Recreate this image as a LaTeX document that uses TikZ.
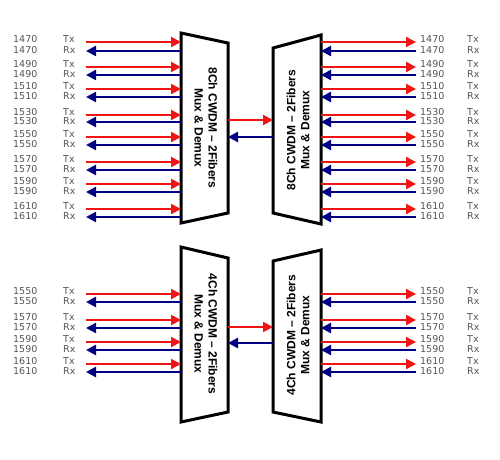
\documentclass[tikz,border=0pt]{standalone}
\usepackage{fontspec}
\setmainfont{Liberation Sans}
\newfontfamily\lblfont{DejaVu Sans}
\usetikzlibrary{arrows.meta}
\definecolor{txred}{RGB}{240,20,20}
\definecolor{rxblue}{RGB}{0,0,130}
\definecolor{lblgray}{RGB}{85,85,85}
\tikzset{
  txline/.style={draw=txred, line width=2pt, -{Triangle[length=10pt,width=10pt]}},
  rxline/.style={draw=rxblue, line width=2.3pt, -{Triangle[length=10pt,width=10pt]}},
  muxbox/.style={draw, line width=3pt, line join=miter},
  muxtext/.style={font=\bfseries\fontsize{12}{14}\selectfont, align=center, inner sep=0pt},
  lbl/.style={font=\lblfont\fontsize{9.5}{10}\selectfont, text=lblgray, anchor=west, inner sep=0pt},
}
\begin{document}
\begin{tikzpicture}[x=1pt,y=-1pt]
  \useasboundingbox (0,0) rectangle (500,459);
  % Mux/Demux blocks
  \draw[muxbox] (181,33) -- (228,43) -- (228,213) -- (181,223) -- cycle;
  \node[muxtext, rotate=-90] (mux8l) at (206,128) {8Ch CWDM -- 2Fibers\\Mux \& Demux};
  \draw[muxbox] (273,48) -- (321,35) -- (321,224) -- (273,213) -- cycle;
  \node[muxtext, rotate=90] (mux8r) at (298,130) {8Ch CWDM -- 2Fibers\\Mux \& Demux};
  \draw[muxbox] (181,247) -- (228,258) -- (228,412) -- (181,422) -- cycle;
  \node[muxtext, rotate=-90] (mux4l) at (206,334) {4Ch CWDM -- 2Fibers\\Mux \& Demux};
  \draw[muxbox] (273,261) -- (321,250) -- (321,422) -- (273,412) -- cycle;
  \node[muxtext, rotate=90] (mux4r) at (298,335) {4Ch CWDM -- 2Fibers\\Mux \& Demux};
  % Two fibers between the blocks
  \coordinate (f8l) at (228,120); \coordinate (f8r) at (273,120);
  \coordinate (b8l) at (228,137); \coordinate (b8r) at (273,137);
  \draw[txline] (f8l) -- (f8r);
  \draw[rxline] (b8r) -- (b8l);
  \coordinate (f4l) at (228,327); \coordinate (f4r) at (273,327);
  \coordinate (b4l) at (228,343); \coordinate (b4r) at (273,343);
  \draw[txline] (f4l) -- (f4r);
  \draw[rxline] (b4r) -- (b4l);
  % 8 channels (wavelength / Tx y / Rx y)
  \foreach \w/\t/\r in {1470/42/51,1490/67/75,1510/89/97,1530/115/122,
                        1550/137/145,1570/162/170,1590/184/192,1610/209/217}{
    \node[lbl] (a\w t) at (13,\t-3) {\w};  \node[lbl] (a\w tx) at (63,\t-3) {Tx};
    \node[lbl] (a\w r) at (13,\r-1) {\w};  \node[lbl] (a\w rx) at (63,\r-1) {Rx};
    \node[lbl] (b\w t) at (420,\t-3) {\w}; \node[lbl] (b\w tx) at (467,\t-3) {Tx};
    \node[lbl] (b\w r) at (420,\r-1) {\w}; \node[lbl] (b\w rx) at (467,\r-1) {Rx};
    \coordinate (ai\w) at (86,\t);  \coordinate (am\w) at (181,\t);
    \coordinate (ao\w) at (86,\r);  \coordinate (an\w) at (181,\r);
    \coordinate (bm\w) at (321,\t); \coordinate (bi\w) at (416,\t);
    \coordinate (bn\w) at (321,\r); \coordinate (bo\w) at (416,\r);
    \draw[txline] (ai\w) -- (am\w);
    \draw[rxline] (an\w) -- (ao\w);
    \draw[txline] (bm\w) -- (bi\w);
    \draw[rxline] (bo\w) -- (bn\w);
  }
  % 4 channels
  \foreach \w/\t/\r in {1550/294/302,1570/320/328,1590/342/350,1610/364/372}{
    \node[lbl] (c\w t) at (13,\t-3) {\w};  \node[lbl] (c\w tx) at (63,\t-3) {Tx};
    \node[lbl] (c\w r) at (13,\r-1) {\w};  \node[lbl] (c\w rx) at (63,\r-1) {Rx};
    \node[lbl] (d\w t) at (420,\t-3) {\w}; \node[lbl] (d\w tx) at (467,\t-3) {Tx};
    \node[lbl] (d\w r) at (420,\r-1) {\w}; \node[lbl] (d\w rx) at (467,\r-1) {Rx};
    \coordinate (ci\w) at (86,\t);  \coordinate (cm\w) at (181,\t);
    \coordinate (co\w) at (86,\r);  \coordinate (cn\w) at (181,\r);
    \coordinate (dm\w) at (321,\t); \coordinate (di\w) at (416,\t);
    \coordinate (dn\w) at (321,\r); \coordinate (do\w) at (416,\r);
    \draw[txline] (ci\w) -- (cm\w);
    \draw[rxline] (cn\w) -- (co\w);
    \draw[txline] (dm\w) -- (di\w);
    \draw[rxline] (do\w) -- (dn\w);
  }
\end{tikzpicture}
\end{document}
